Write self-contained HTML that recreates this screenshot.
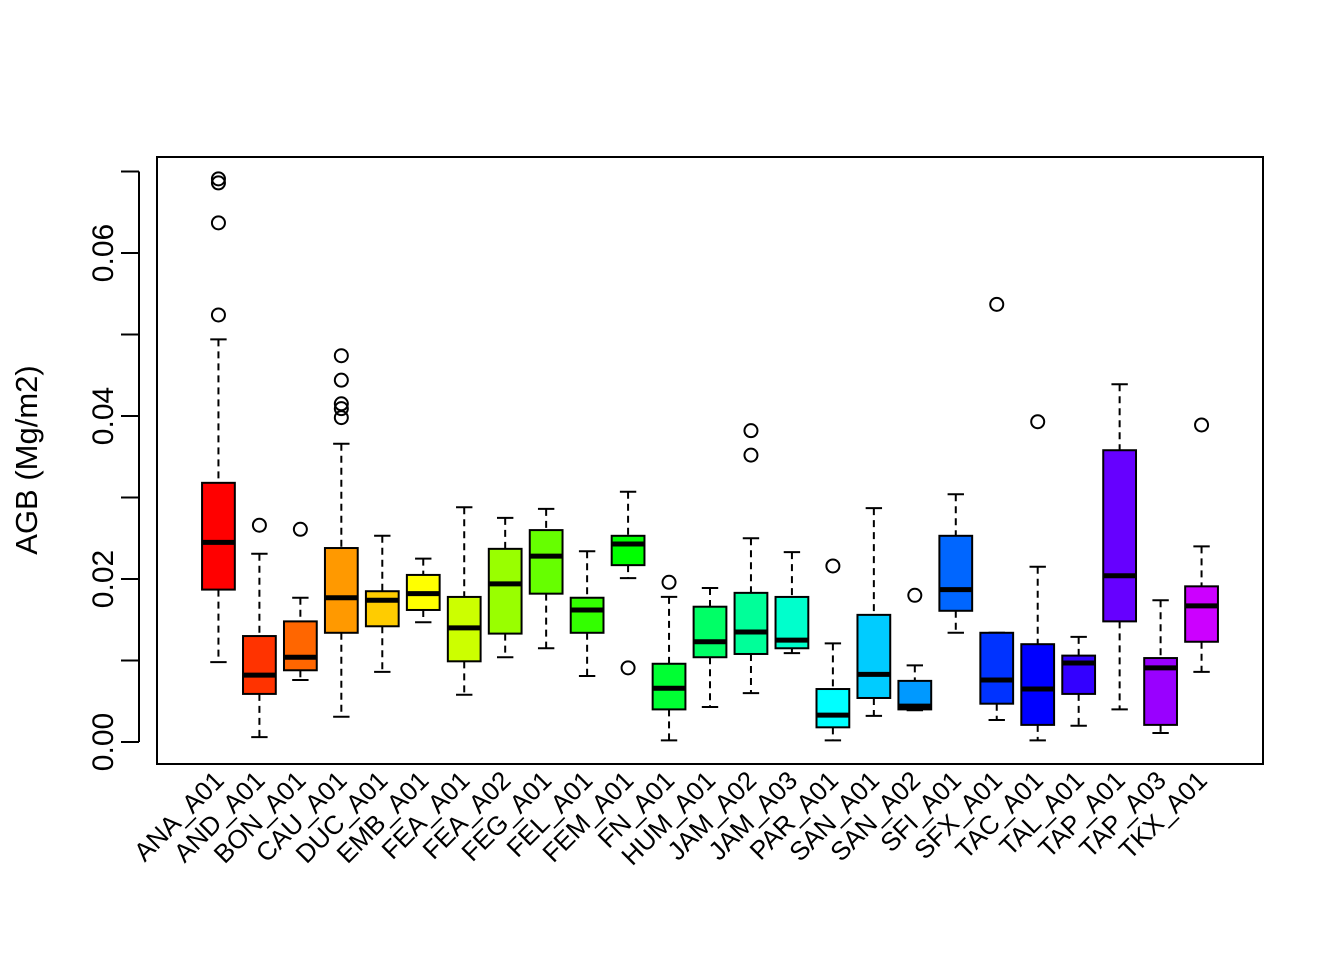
<!DOCTYPE html>
<html><head><meta charset="utf-8"><style>html,body{margin:0;padding:0;background:#fff}svg{display:block}</style></head>
<body>
<svg id="chart" width="1344" height="960" xmlns="http://www.w3.org/2000/svg" font-family="Liberation Sans, Arial, sans-serif"></svg>
<script>
const categories=["ANA_A01","AND_A01","BON_A01","CAU_A01","DUC_A01","EMB_A01","FEA_A01","FEA_A02","FEG_A01","FEL_A01","FEM_A01","FN_A01","HUM_A01","JAM_A02","JAM_A03","PAR_A01","SAN_A01","SAN_A02","SFI_A01","SFX_A01","TAC_A01","TAL_A01","TAP_A01","TAP_A03","TKX_A01"];
const whiskerLow=[0.0098,0.0006,0.0076,0.0031,0.0086,0.0147,0.0058,0.0104,0.0115,0.0081,0.0201,0.0002,0.0043,0.0060,0.0109,0.0002,0.0032,0.0039,0.0134,0.0027,0.0002,0.0020,0.0040,0.0011,0.0086];
const q1=[0.0187,0.0059,0.0088,0.0134,0.0142,0.0162,0.0099,0.0133,0.0182,0.0134,0.0217,0.0040,0.0104,0.0108,0.0115,0.0018,0.0054,0.0040,0.0161,0.0047,0.0021,0.0059,0.0148,0.0021,0.0123];
const medians=[0.0245,0.0082,0.0104,0.0177,0.0174,0.0182,0.0140,0.0194,0.0228,0.0162,0.0243,0.0066,0.0123,0.0135,0.0125,0.0033,0.0083,0.0044,0.0187,0.0076,0.0065,0.0097,0.0204,0.0091,0.0167];
const q3=[0.0318,0.0130,0.0148,0.0238,0.0185,0.0205,0.0178,0.0237,0.0260,0.0177,0.0253,0.0096,0.0166,0.0183,0.0178,0.0065,0.0156,0.0075,0.0253,0.0134,0.0120,0.0106,0.0358,0.0103,0.0191];
const whiskerHigh=[0.0494,0.0231,0.0177,0.0366,0.0253,0.0225,0.0288,0.0275,0.0286,0.0234,0.0307,0.0178,0.0189,0.0250,0.0233,0.0121,0.0287,0.0094,0.0304,0.0134,0.0215,0.0129,0.0439,0.0174,0.0240];
const outliers=[[0.0524,0.0637,0.0691,0.0686],[0.0266],[0.0261],[0.0474,0.0444,0.0415,0.0409,0.0398],[],[],[],[],[],[],[0.0091],[0.0196],[],[0.0382,0.0352],[],[0.0216],[],[0.0180],[],[0.0537],[0.0393],[],[],[],[0.0389]];
const yTicks=[0,0.01,0.02,0.03,0.04,0.05,0.06,0.07];
const yLabels=["0.00","0.02","0.04","0.06"];

const NS="http://www.w3.org/2000/svg",svg=document.getElementById('chart');
const L=157,R=1263,T=157,B=764;
const n=categories.length;
const xmin=0.5-0.04*n, xmax=n+0.5+0.04*n;
const x=i=>L+(i+1-xmin)/(xmax-xmin)*(R-L);
const y=v=>742-v*8150;
function mk(tag,attrs,parent){const e=document.createElementNS(NS,tag);for(const k in attrs)e.setAttribute(k,attrs[k]);(parent||svg).appendChild(e);return e;}
const plot=mk('g',{});


const bw=0.8*(R-L)/(xmax-xmin), cw=bw/2;
categories.forEach((c,i)=>{
  const g=mk('g',{},plot);
  
  
  const cx=x(i),col=`hsl(${i*12},100%,50%)`;
  mk('line',{x1:cx,x2:cx,y1:y(whiskerHigh[i]),y2:y(q3[i]),stroke:'#000','stroke-width':2,'stroke-dasharray':'7,5'},g);
  mk('line',{x1:cx,x2:cx,y1:y(q1[i]),y2:y(whiskerLow[i]),stroke:'#000','stroke-width':2,'stroke-dasharray':'7,5'},g);
  mk('line',{x1:cx-cw/2,x2:cx+cw/2,y1:y(whiskerHigh[i]),y2:y(whiskerHigh[i]),stroke:'#000','stroke-width':2},g);
  mk('line',{x1:cx-cw/2,x2:cx+cw/2,y1:y(whiskerLow[i]),y2:y(whiskerLow[i]),stroke:'#000','stroke-width':2},g);
  mk('rect',{x:cx-bw/2,y:y(q3[i]),width:bw,height:y(q1[i])-y(q3[i]),fill:col,stroke:'#000','stroke-width':2},g);
  mk('line',{x1:cx-bw/2,x2:cx+bw/2,y1:y(medians[i]),y2:y(medians[i]),stroke:'#000','stroke-width':5},g);
  outliers[i].forEach(v=>{const o=mk('circle',{cx:cx,cy:y(v),r:6.5,fill:'none',stroke:'#000','stroke-width':2},g);
    
    });
  const t=mk('text',{x:cx+7,y:782,'font-size':26,'text-anchor':'end',transform:`rotate(-45 ${cx+7} 782)`},g);
  
  
  t.textContent=c;
});
const frame=mk('rect',{x:L,y:T,width:R-L,height:B-T,fill:'none',stroke:'#000','stroke-width':2});


const ax=mk('g',{});


mk('line',{x1:L-18,x2:L-18,y1:y(yTicks[0]),y2:y(yTicks[yTicks.length-1]),stroke:'#000','stroke-width':2},ax);
yTicks.forEach(v=>mk('line',{x1:L-18,x2:L-36,y1:y(v),y2:y(v),stroke:'#000','stroke-width':2},ax));
yLabels.forEach(s=>{const v=parseFloat(s),yy=y(v);
  const t=mk('text',{x:113,y:yy,'font-size':30,'text-anchor':'middle',transform:`rotate(-90 113 ${yy})`},ax);
  
  
  t.textContent=s;});
const yt=mk('text',{x:37,y:460,'font-size':31,'text-anchor':'middle',transform:'rotate(-90 37 460)'});


yt.textContent='AGB (Mg/m2)';
</script>
</body></html>
